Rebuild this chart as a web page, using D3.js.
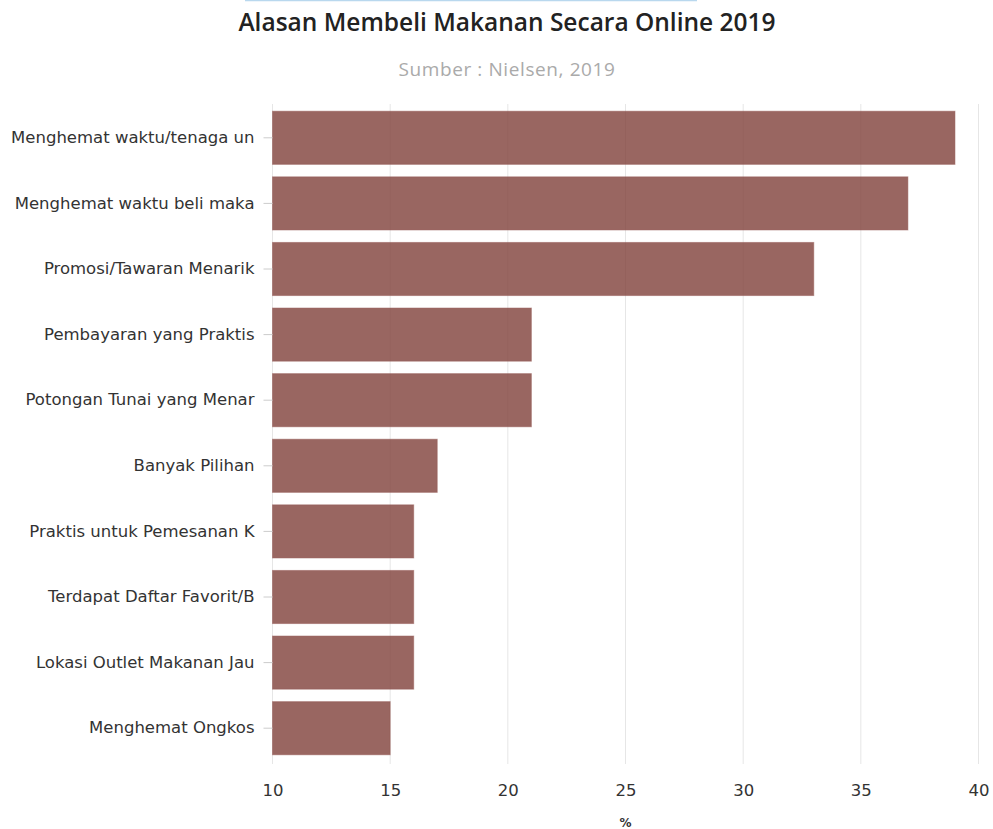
<!DOCTYPE html>
<html><head><meta charset="utf-8">
<script src="https://cdn.jsdelivr.net/npm/d3@7/dist/d3.min.js"></script>
<style>body{margin:0;background:#fff}</style>
</head><body>
<script>
const categories = ["Menghemat waktu/tenaga un","Menghemat waktu beli maka","Promosi/Tawaran Menarik","Pembayaran yang Praktis","Potongan Tunai yang Menar","Banyak Pilihan","Praktis untuk Pemesanan K","Terdapat Daftar Favorit/B","Lokasi Outlet Makanan Jau","Menghemat Ongkos"];
const values = [39,37,33,21,21,17,16,16,16,15];
const xTicks = [10,15,20,25,30,35,40];
const title = "Alasan Membeli Makanan Secara Online 2019";
const subtitle = "Sumber : Nielsen, 2019";
const xLabel = "%";

const W=993,H=829;
const svg=d3.select("body").append("svg").attr("width",W).attr("height",H);
svg.append("line").attr("x1",245).attr("x2",697).attr("y1",0.5).attr("y2",0.5).attr("stroke","#b9d8ee").attr("stroke-width",1.5);
svg.append("text").attr("x",507).attr("y",31).attr("text-anchor","middle").attr("font-family","'Open Sans', sans-serif").attr("font-weight",600).attr("font-size",24.5).attr("fill","#222").text(title);
svg.append("text").attr("x",507).attr("y",76).attr("text-anchor","middle").attr("font-family","'Open Sans', sans-serif").attr("font-size",19).attr("letter-spacing",0.6).attr("fill","#aaa").text(subtitle);

const x=d3.scaleLinear().domain([10,40]).range([272.5,978.5]);
const y=d3.scaleBand().domain(categories).range([105,761]).paddingInner(0.19).paddingOuter(0.095);

// gridlines
svg.append("g").selectAll("line").data(xTicks).join("line")
 .attr("x1",d=>x(d)).attr("x2",d=>x(d)).attr("y1",104).attr("y2",764)
 .attr("stroke","#e6e6e6").attr("stroke-width",1);

// bars
svg.append("g").selectAll("rect").data(values).join("rect")
 .attr("x",x(10)).attr("y",(d,i)=>y(categories[i]))
 .attr("width",d=>x(d)-x(10)).attr("height",y.bandwidth())
 .attr("fill","rgba(128,64,58,0.8)").attr("stroke","rgba(150,90,85,0.5)").attr("stroke-width",1);

// y axis
const ya=svg.append("g").attr("transform",`translate(${x(10)},0)`).call(d3.axisLeft(y).tickSize(9).tickPadding(9));
ya.select(".domain").remove();
ya.selectAll(".tick line").attr("stroke","#ccc");
ya.selectAll("text").attr("font-family","'DejaVu Sans', Verdana, sans-serif").attr("font-size",16.5).attr("fill","#333");

// x axis
const xa=svg.append("g").attr("transform","translate(0,764)").call(d3.axisBottom(x).tickValues(xTicks).tickSize(0).tickPadding(20));
xa.select(".domain").remove();
xa.selectAll("text").attr("font-family","'DejaVu Sans', Verdana, sans-serif").attr("font-size",16.5).attr("fill","#333");

svg.append("text").attr("x",x(25)).attr("y",827).attr("text-anchor","middle").attr("font-family","'DejaVu Sans', Verdana, sans-serif").attr("font-weight","bold").attr("font-size",12).attr("fill","#333").text(xLabel);
</script>
</body></html>
